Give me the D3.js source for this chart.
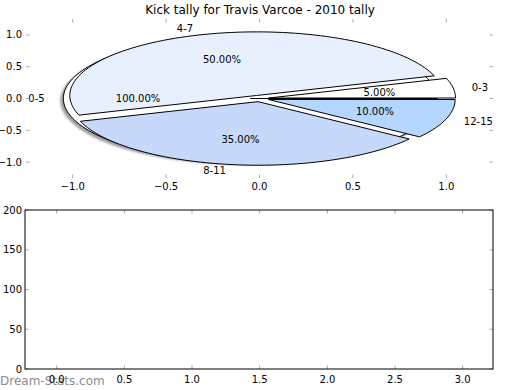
<!DOCTYPE html>
<html>
<head>
<meta charset="utf-8">
<script src="https://cdn.jsdelivr.net/npm/d3@7"></script>
<style>
  body { margin: 0; background: #fff; }
  text { font-family: "DejaVu Sans", sans-serif; }
</style>
</head>
<body>
<svg id="chart" width="520" height="390"></svg>
<script>
// outer pie (drawn first, with shadow)
var outerLabels = ['0-5'];
var outerValues = [100];
// inner pie, drawn on top of it
var sliceLabels = ['0-3', '4-7', '8-11', '12-15'];
var sliceValues = [5, 50, 35, 10];
var sliceColors = ['#ffffff', '#e9f0fd', '#c6d9fb', '#b5d6ff'];
var EXPLODE = 0.05;

var pieTicks = [-1.0, -0.5, 0.0, 0.5, 1.0];
var barXTicks = [0.0, 0.5, 1.0, 1.5, 2.0, 2.5, 3.0];
var barYTicks = [0, 50, 100, 150, 200];

var svg = d3.select('#chart');
var fmt = d3.format('.2f');
var TICK = 3.5;

// ---- top axes: pie, frame off, limits +-1.25 in both directions
var px = d3.scaleLinear().domain([-1.25, 1.25]).range([26, 493]);
var py = d3.scaleLinear().domain([-1.25, 1.25]).range([178, 19]);

function wedgePath(cx, cy, a0, a1) {
  var pts = [[cx, cy]];
  var n = Math.max(8, Math.ceil((a1 - a0) / 2));
  for (var i = 0; i <= n; i++) {
    var t = (a0 + (a1 - a0) * i / n) * Math.PI / 180;
    pts.push([cx + Math.cos(t), cy + Math.sin(t)]);
  }
  return d3.line().x(function(d) { return px(d[0]); }).y(function(d) { return py(d[1]); })(pts) + 'Z';
}

// matplotlib-ish pie layout: counterclockwise from 0 deg
function layout(values) {
  var total = d3.sum(values), a = 0;
  return values.map(function(v) {
    var a0 = a, a1 = a + v / total * 360;
    a = a1;
    var mid = (a0 + a1) / 2 * Math.PI / 180;
    return { a0: a0, a1: a1, frac: v / total, cx: EXPLODE * Math.cos(mid), cy: EXPLODE * Math.sin(mid), mid: mid };
  });
}

var defs = svg.append('defs');
defs.append('filter').attr('id', 'blur')
  .append('feGaussianBlur').attr('stdDeviation', 1);

var outer = layout(outerValues);
var inner = layout(sliceValues);

var pieG = svg.append('g');

// shadow of the outer pie
pieG.selectAll('.shadow')
  .data(outer)
  .enter()
  .append('path')
  .attr('class', 'shadow')
  .attr('d', function(d) { return wedgePath(d.cx, d.cy, d.a0, d.a1); })
  .attr('transform', 'translate(-2.5,2)')
  .attr('fill', '#777')
  .attr('stroke', '#555')
  .attr('opacity', 0.7)
  .attr('filter', 'url(#blur)');

pieG.selectAll('.outer')
  .data(outer)
  .enter()
  .append('path')
  .attr('class', 'outer')
  .attr('d', function(d) { return wedgePath(d.cx, d.cy, d.a0, d.a1); })
  .attr('fill', '#fff')
  .attr('stroke', '#000')
  .attr('stroke-width', 1);

pieG.selectAll('.slice')
  .data(inner)
  .enter()
  .append('path')
  .attr('class', 'slice')
  .attr('d', function(d) { return wedgePath(d.cx, d.cy, d.a0, d.a1); })
  .attr('fill', function(d, i) { return sliceColors[i]; })
  .attr('stroke', '#000')
  .attr('stroke-width', 1);

function pieTexts(data, labels) {
  data.forEach(function(d, i) {
    var c = Math.cos(d.mid), s = Math.sin(d.mid);
    var lx = d.cx + 1.1 * c, ly = d.cy + 1.1 * s;
    svg.append('text')
      .attr('x', px(lx)).attr('y', py(ly))
      .attr('text-anchor', lx > 0 ? 'start' : 'end')
      .attr('dominant-baseline', 'central')
      .attr('font-size', 10)
      .text(labels[i]);
    svg.append('text')
      .attr('x', px(d.cx + 0.6 * c)).attr('y', py(d.cy + 0.6 * s))
      .attr('text-anchor', 'middle')
      .attr('dominant-baseline', 'central')
      .attr('font-size', 10)
      .text(fmt(d.frac * 100) + '%');
  });
}
pieTexts(outer, outerLabels);
pieTexts(inner, sliceLabels);

function minus(v, f) { return f(v).replace('-', '\u2212'); }
var f1 = d3.format('.1f');

// ticks of the pie axes (inside, light grey, on all four sides)
var tickG = svg.append('g').attr('stroke', '#aaa').attr('stroke-width', 1);
pieTicks.forEach(function(t) {
  tickG.append('line').attr('x1', px(t)).attr('x2', px(t)).attr('y1', py.range()[1]).attr('y2', py.range()[1] + TICK);
  tickG.append('line').attr('x1', px(t)).attr('x2', px(t)).attr('y1', py.range()[0]).attr('y2', py.range()[0] - TICK);
  tickG.append('line').attr('y1', py(t)).attr('y2', py(t)).attr('x1', px.range()[0]).attr('x2', px.range()[0] + TICK);
  tickG.append('line').attr('y1', py(t)).attr('y2', py(t)).attr('x1', px.range()[1]).attr('x2', px.range()[1] - TICK);
  svg.append('text').attr('x', px(t)).attr('y', py.range()[0] + 8)
    .attr('text-anchor', 'middle').attr('dominant-baseline', 'central').attr('font-size', 10)
    .text(minus(t, f1));
  svg.append('text').attr('x', px.range()[0] - 4).attr('y', py(t))
    .attr('text-anchor', 'end').attr('dominant-baseline', 'central').attr('font-size', 10)
    .text(minus(t, f1));
});

svg.append('text')
  .attr('x', 260).attr('y', 10)
  .attr('text-anchor', 'middle').attr('dominant-baseline', 'central')
  .attr('font-size', 12)
  .text('Kick tally for Travis Varcoe - 2010 tally');

// ---- bottom axes (empty)
var bx = d3.scaleLinear().domain([-0.234, 3.224]).range([25, 493]);
var by = d3.scaleLinear().domain([0, 200]).range([369, 210]);

svg.append('text')
  .attr('x', 0).attr('y', 385)
  .attr('font-size', 12)
  .attr('fill', '#8c8c8c')
  .text('Dream-Stats.com');

var bt = svg.append('g').attr('stroke', '#aaa').attr('stroke-width', 1);
barXTicks.forEach(function(t) {
  bt.append('line').attr('x1', bx(t)).attr('x2', bx(t)).attr('y1', by.range()[0]).attr('y2', by.range()[0] - TICK);
  bt.append('line').attr('x1', bx(t)).attr('x2', bx(t)).attr('y1', by.range()[1]).attr('y2', by.range()[1] + TICK);
  svg.append('text').attr('x', bx(t)).attr('y', by.range()[0] + 10)
    .attr('text-anchor', 'middle').attr('dominant-baseline', 'central').attr('font-size', 10)
    .text(f1(t));
});
barYTicks.forEach(function(t) {
  bt.append('line').attr('y1', by(t)).attr('y2', by(t)).attr('x1', bx.range()[0]).attr('x2', bx.range()[0] + TICK);
  bt.append('line').attr('y1', by(t)).attr('y2', by(t)).attr('x1', bx.range()[1]).attr('x2', bx.range()[1] - TICK);
  svg.append('text').attr('x', bx.range()[0] - 3).attr('y', by(t))
    .attr('text-anchor', 'end').attr('dominant-baseline', 'central').attr('font-size', 10)
    .text(t);
});

svg.append('rect')
  .attr('x', bx.range()[0]).attr('y', by.range()[1])
  .attr('width', bx.range()[1] - bx.range()[0])
  .attr('height', by.range()[0] - by.range()[1])
  .attr('fill', 'none').attr('stroke', '#000').attr('stroke-width', 1);
</script>
</body>
</html>
